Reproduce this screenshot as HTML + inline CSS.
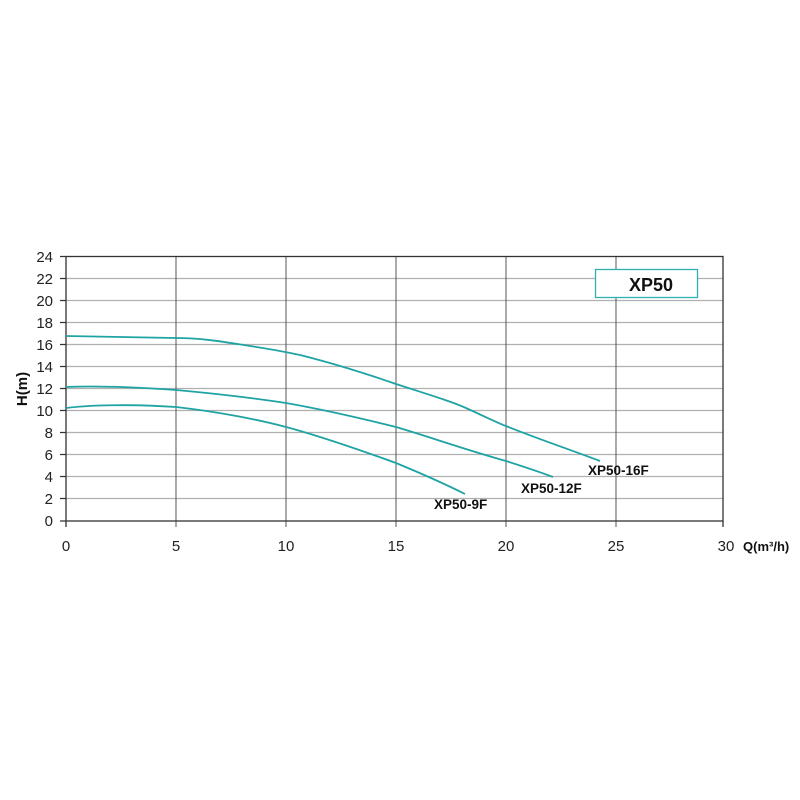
<!DOCTYPE html>
<html><head><meta charset="utf-8"><style>body{margin:0;background:#fff}svg{display:block}</style></head><body>
<svg width="800" height="800" xmlns="http://www.w3.org/2000/svg" font-family="Liberation Sans, Arial, sans-serif">
<rect width="800" height="800" fill="#fff"/>
<g stroke="#b0b0b0" stroke-width="1.3">
<line x1="66" x2="723" y1="278.5" y2="278.5"/><line x1="66" x2="723" y1="300.5" y2="300.5"/><line x1="66" x2="723" y1="322.5" y2="322.5"/><line x1="66" x2="723" y1="344.5" y2="344.5"/><line x1="66" x2="723" y1="366.5" y2="366.5"/><line x1="66" x2="723" y1="388.5" y2="388.5"/><line x1="66" x2="723" y1="410.5" y2="410.5"/><line x1="66" x2="723" y1="432.5" y2="432.5"/><line x1="66" x2="723" y1="454.5" y2="454.5"/><line x1="66" x2="723" y1="476.5" y2="476.5"/><line x1="66" x2="723" y1="498.5" y2="498.5"/>
</g>
<g stroke="#444" stroke-width="0.9">
<line x1="176" x2="176" y1="256" y2="527"/><line x1="286" x2="286" y1="256" y2="527"/><line x1="396" x2="396" y1="256" y2="527"/><line x1="506" x2="506" y1="256" y2="527"/><line x1="616" x2="616" y1="256" y2="527"/>
</g>
<g stroke="#333" stroke-width="1.3" fill="none">
<rect x="66" y="256.5" width="657" height="264.5"/>
<line x1="66" x2="66" y1="521" y2="527"/><line x1="723" x2="723" y1="521" y2="527"/>
<path d="M60 256.5h6M60 278.5h6M60 300.5h6M60 322.5h6M60 344.5h6M60 366.5h6M60 388.5h6M60 410.5h6M60 432.5h6M60 454.5h6M60 476.5h6M60 498.5h6M60 521h6"/>
</g>
<g font-size="15" fill="#222" text-anchor="end">
<text x="53" y="262">24</text><text x="53" y="284">22</text><text x="53" y="306">20</text><text x="53" y="328">18</text><text x="53" y="350">16</text><text x="53" y="372">14</text><text x="53" y="394">12</text><text x="53" y="416">10</text><text x="53" y="438">8</text><text x="53" y="460">6</text><text x="53" y="482">4</text><text x="53" y="504">2</text><text x="53" y="526">0</text>
</g>
<g font-size="15" fill="#222" text-anchor="middle">
<text x="66" y="551">0</text><text x="176" y="551">5</text><text x="286" y="551">10</text><text x="396" y="551">15</text><text x="506" y="551">20</text><text x="616" y="551">25</text><text x="726" y="551">30</text>
</g>
<text x="743" y="551" font-size="13" font-weight="bold" fill="#111">Q(m³/h)</text>
<text transform="translate(27,389) rotate(-90)" font-size="15" font-weight="bold" fill="#111" text-anchor="middle">H(m)</text>
<rect x="595.5" y="269.5" width="102" height="28" fill="#fff" stroke="#30b0b0" stroke-width="1.3"/>
<text x="651" y="291" font-size="18" font-weight="bold" fill="#111" text-anchor="middle">XP50</text>
<g stroke="#1fa3a3" stroke-width="1.8" fill="none">
<path d="M66 336 C120 337 160 338 176 338 C205 338 230 343 250 346 C270 349 286 352 300 355 C340 365 370 375 396 384 C430 395 450 401 466 408 C490 419 500 424 506 426 C530 436 560 446 600 461"/>
<path d="M66 387 C90 386 120 386 176 390 C220 394 260 399 286 403 C320 409 360 418 396 427 C430 437 460 448 506 461 C525 467 540 472 553 477"/>
<path d="M66 408 C90 405 130 404 176 407 C220 412 260 420 286 427 C320 436 360 450 396 463 C425 475 445 484 465 494"/>
</g>
<g font-size="13.5" font-weight="bold" fill="#111">
<text x="588" y="475">XP50-16F</text><text x="521" y="493">XP50-12F</text><text x="434" y="509">XP50-9F</text>
</g>
</svg>
</body></html>
